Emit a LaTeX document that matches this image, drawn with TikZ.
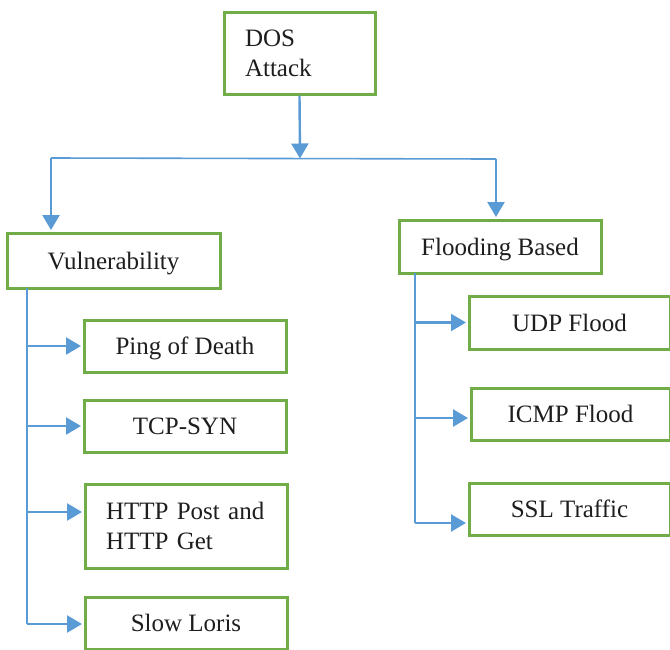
\documentclass[tikz,border=0pt]{standalone}
\usepackage{fontspec}
\setmainfont{Liberation Serif}
\usetikzlibrary{arrows.meta,calc}
\definecolor{boxgreen}{RGB}{112,173,71}
\definecolor{lineblue}{RGB}{91,155,213}
\definecolor{txt}{RGB}{30,30,30}
\begin{document}
\begin{tikzpicture}[x=1pt,y=-1pt,
  box/.style={draw=boxgreen,line width=3pt,fill=white,text=txt,inner sep=0pt,
    font=\fontsize{25}{30}\selectfont},
  one/.style={box,text depth=0pt},
  conn/.style={draw=lineblue,line width=2.4pt},
  thin/.style={draw=lineblue,line width=1.6pt},
  arr/.style={conn,-{Triangle[length=15pt,width=17pt]}}]
\useasboundingbox (0,0) rectangle (670,649);
\node[box,minimum width=151pt,minimum height=82pt,text width=151pt,align=left] (dos) at (299.5,53)
  {\hspace*{21pt}DOS\\\hspace*{21pt}Attack};
\node[one,minimum width=213pt,minimum height=55pt] (vul) at (113.5,260.5) {Vulnerability};
\node[one,minimum width=202pt,minimum height=53pt] (fld) at (500,246.5) {Flooding Based};
\node[one,minimum width=202pt,minimum height=52pt] (ping) at (185,346) {Ping of Death};
\node[one,minimum width=202pt,minimum height=52pt] (tcp) at (185,426) {TCP-SYN};
\node[box,minimum width=202pt,minimum height=84pt,text width=202pt,align=left] (http) at (186,526)
  {\hspace*{21pt}HTTP Post and\\\hspace*{21pt}HTTP Get};
\node[one,minimum width=202pt,minimum height=52pt] (slow) at (186,623) {Slow Loris};
\node[one,minimum width=201pt,minimum height=53pt] (udp) at (569.5,322.5) {UDP Flood};
\node[one,minimum width=199pt,minimum height=52pt] (icmp) at (570.5,414) {ICMP Flood};
\node[one,minimum width=201pt,minimum height=52pt] (ssl) at (569.5,509) {SSL Traffic};
% top split
\coordinate (jn) at (300,158.5);
\coordinate (hl) at (51,158);
\coordinate (hr) at (496,159);
\draw[arr] (dos.south) -- (jn);
\draw[thin] (hl) -- (hr);
\draw[arr] (hl) -- ($(hl |- vul.north)+(0,-1.5)$);
\draw[arr] (hr) -- ($(hr |- fld.north)+(0,-1.5)$);
% left branch
\coordinate (lv) at (27,288);
\coordinate (lb) at (27,624);
\draw[thin] (lv) -- (lb);
\draw[arr] (lv |- ping.west) -- ($(ping.west)+(-1.5,0)$);
\draw[arr] (lv |- tcp.west) -- ($(tcp.west)+(-1.5,0)$);
\draw[arr] ($(lv |- http.west)+(0,-14)$) -- ($(http.west)+(-1.5,-14)$);
\draw[arr] (lb) -- ($(lb -| slow.west)+(-1.5,0)$);
% right branch
\coordinate (rv) at (415,273);
\coordinate (rb) at (415,523);
\draw[thin] (rv) -- (rb);
\draw[arr] (rv |- udp.west) -- ($(udp.west)+(-1.5,0)$);
\draw[arr] ($(rv |- icmp.west)+(0,4)$) -- ($(icmp.west)+(-1.5,4)$);
\draw[arr] (rb) -- ($(rb -| ssl.west)+(-1.5,0)$);
\end{tikzpicture}
\end{document}
